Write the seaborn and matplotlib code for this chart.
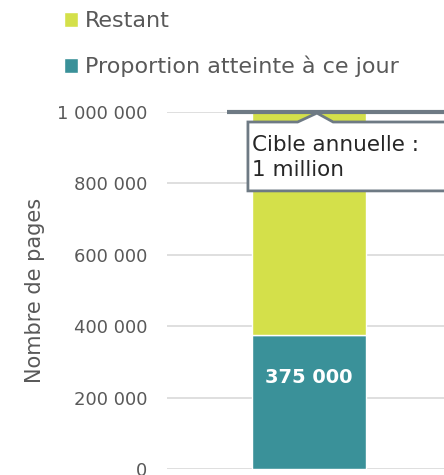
import numpy as np
import pandas as pd
import matplotlib
matplotlib.use("Agg")
import matplotlib.pyplot as plt
from matplotlib.patches import Patch, Polygon
from matplotlib.ticker import FuncFormatter
import seaborn as sns

# -----------------------------
# Data
# -----------------------------
categories = ["2018"]
atteinte = [375000]
restant = [625000]
cible = 1000000
yticks = [0, 200000, 400000, 600000, 800000, 1000000]

teal = "#3A9199"
yellow = "#D4E04A"
grey_text = "#595959"
line_grey = "#6E7A84"

sns.set_theme(style="white")
plt.rcParams["font.family"] = ["DejaVu Sans"]

df = pd.DataFrame({"cat": categories, "atteinte": atteinte, "restant": restant})

fig = plt.figure(figsize=(4.44, 4.75), dpi=100)
ax = fig.add_axes([167 / 444, 6 / 475, 284 / 444, 357 / 475])

# stacked bar: teal bottom, yellow on top
sns.barplot(data=df, x="cat", y="atteinte", color=teal, width=0.4,
            saturation=1, ax=ax, zorder=2)
sns.barplot(data=df, x="cat", y="restant", bottom=df["atteinte"], color=yellow,
            width=0.4, saturation=1, ax=ax, zorder=2)

ax.set_xlim(-0.5, 0.5)
ax.set_ylim(0, cible)
ax.set_yticks(yticks)
ax.yaxis.set_major_formatter(FuncFormatter(lambda v, p: f"{int(v):,}".replace(",", " ")))
ax.tick_params(axis="y", labelsize=13, labelcolor=grey_text, length=0, pad=14)
ax.set_xticks([])
ax.set_xlabel("")
ax.set_ylabel("Nombre de pages", fontsize=15, color=grey_text, labelpad=9)
ax.grid(axis="y", color="#D9D9D9", linewidth=1.2, zorder=0)
ax.set_axisbelow(True)
sns.despine(ax=ax, left=True, bottom=True)

# value label in the teal part
ax.text(0, atteinte[0] * 0.68, f"{atteinte[0]:,}".replace(",", " "),
        ha="center", va="center", color="white", fontsize=14, fontweight="bold", zorder=4)

# target line
ax.hlines(cible, -0.29, 0.6, color=line_grey, linewidth=3, clip_on=False, zorder=5)

# callout box with notch pointing to the target line
yt, yb = 972000, 779000
box = Polygon([(-0.215, yb), (-0.215, yt), (-0.04, yt), (0.028, 997000),
               (0.085, yt), (0.7, yt), (0.7, yb)], closed=True,
              facecolor="white", edgecolor=line_grey, linewidth=2,
              clip_on=False, zorder=6)
ax.add_patch(box)
ax.text(-0.2, 873000, "Cible annuelle :\n1 million", ha="left", va="center",
        fontsize=15.5, color="#262626", linespacing=1.3, zorder=7)

# legend
handles = [Patch(facecolor=yellow, label="Restant"),
           Patch(facecolor=teal, label="Proportion atteinte à ce jour")]
fig.legend(handles=handles, loc="upper left", bbox_to_anchor=(44 / 444, 1 + 9 / 475),
           frameon=False, fontsize=16, labelcolor=grey_text, handlelength=0.65,
           handleheight=0.65, handletextpad=0.3, labelspacing=1.1)

fig.savefig("out.png", dpi=100)
plt.close(fig)
